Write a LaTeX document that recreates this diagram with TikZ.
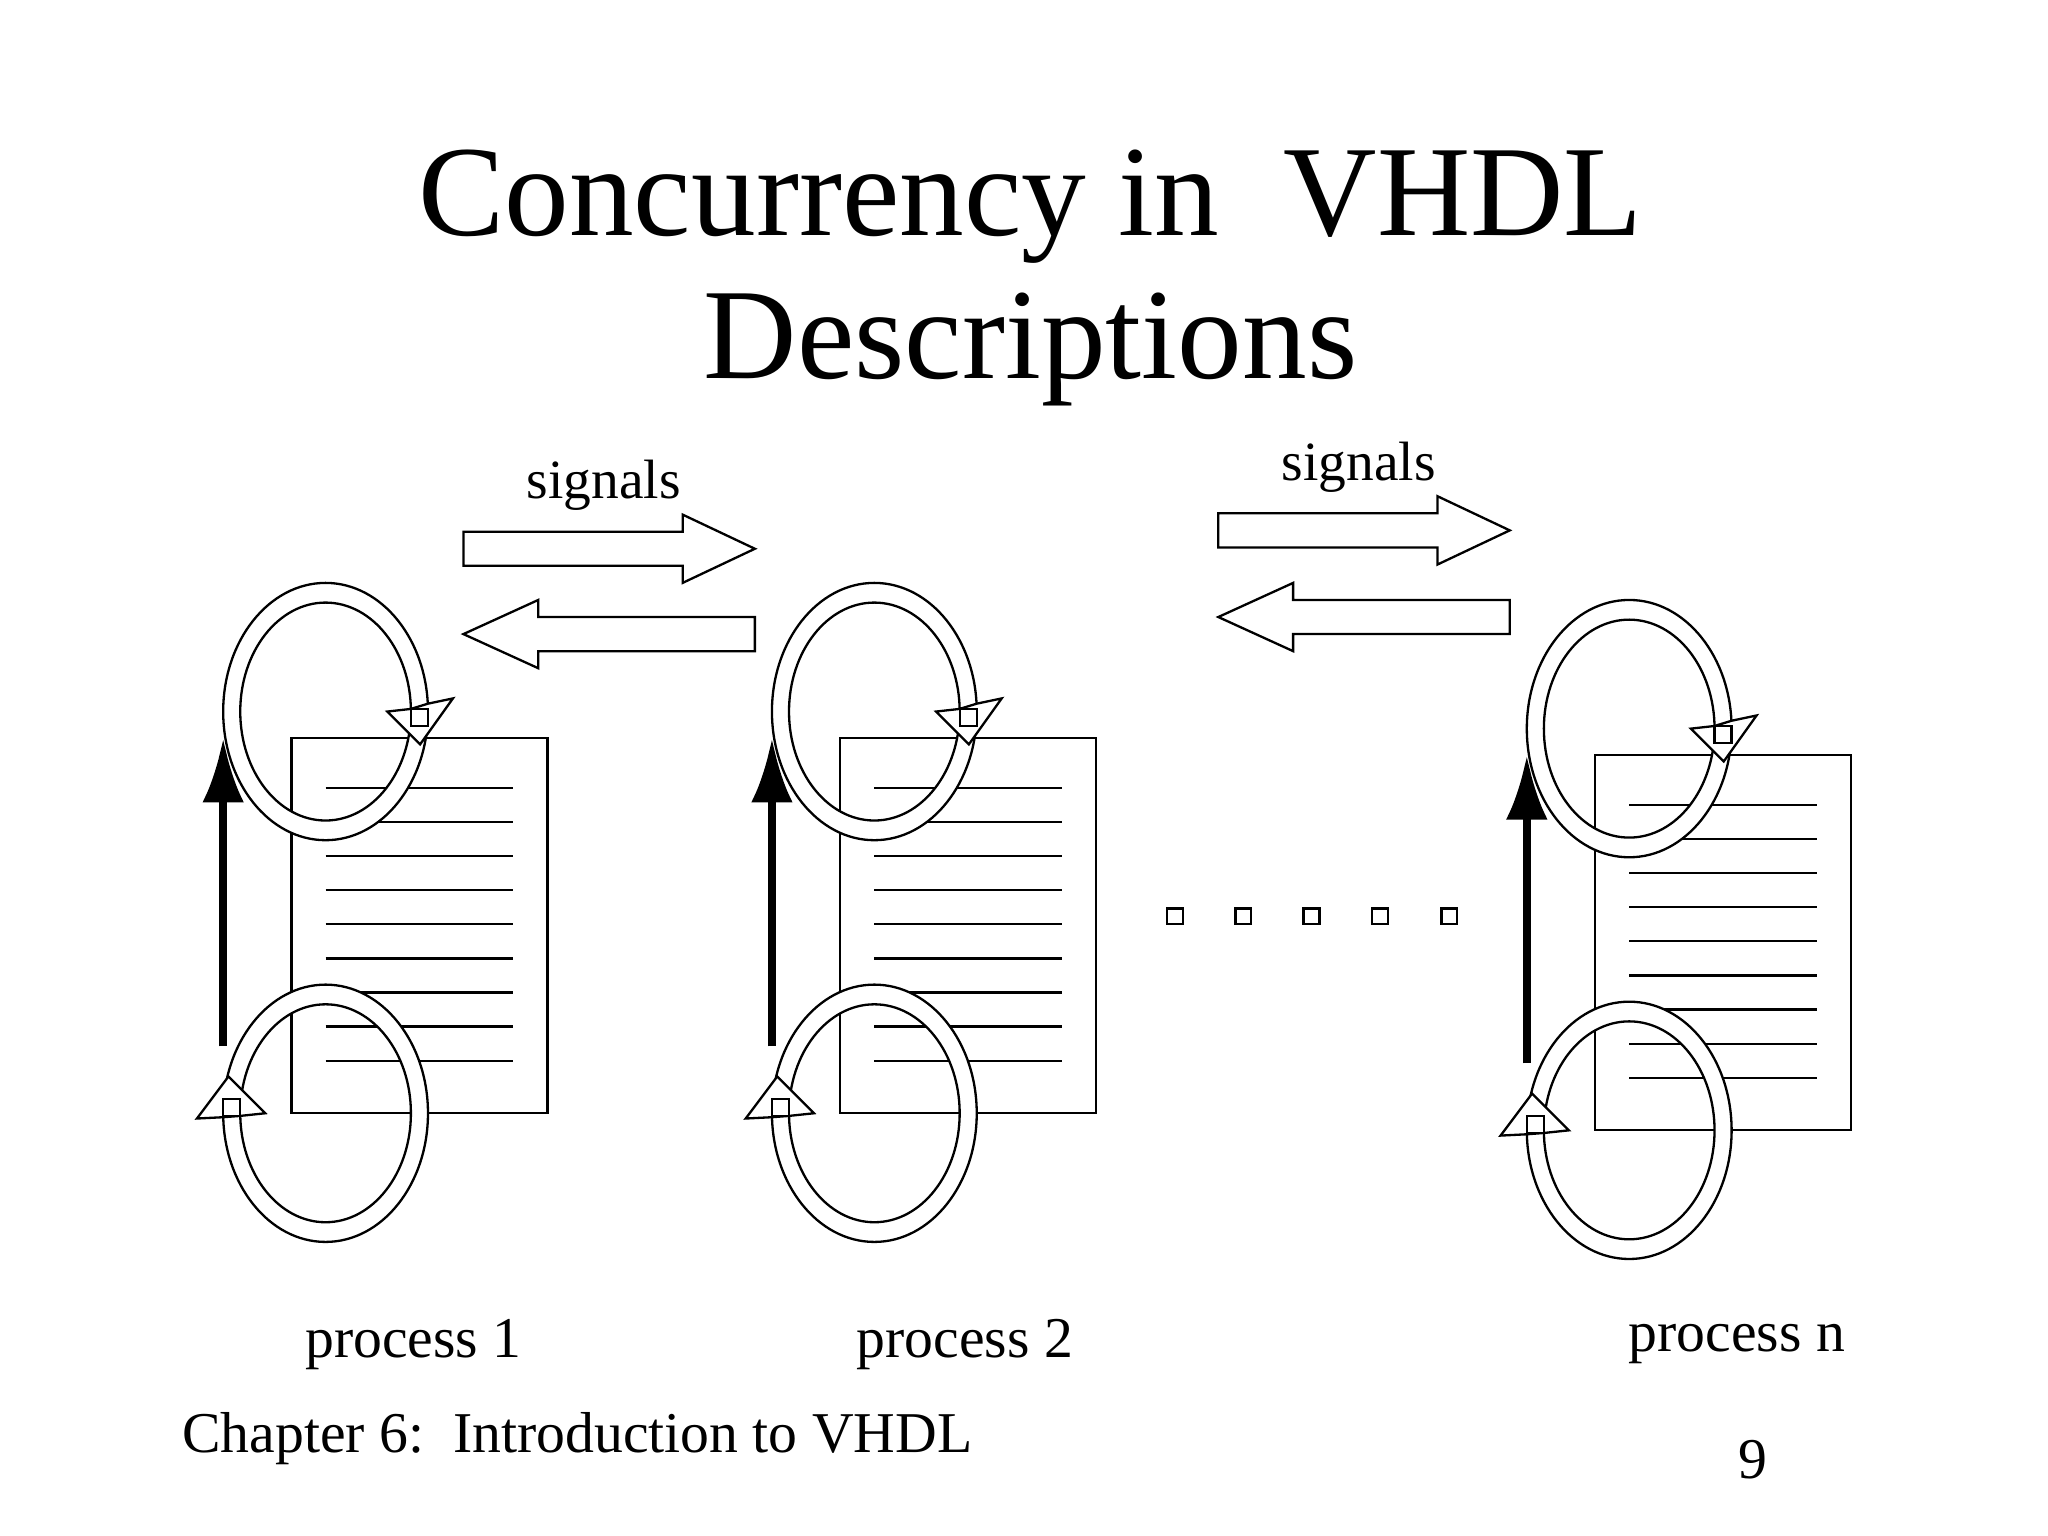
\documentclass[tikz,border=0pt]{standalone}
\usepackage{fontspec}
\usetikzlibrary{arrows.meta}
\setmainfont{Liberation Serif}
\begin{document}
\begin{tikzpicture}[x=0.01cm,y=-0.01cm,line width=0.5pt,
  lbl/.style={inner sep=0,font=\fontsize{12.5pt}{14pt}\selectfont},
  sig/.style={inner sep=0,font=\fontsize{12pt}{14pt}\selectfont}]
\fill[white] (0,0) rectangle (1560,1170);
\useasboundingbox (0,0) rectangle (1560,1170);
\node[inner sep=0,align=center,font=\fontsize{28pt}{31pt}\selectfont] (title) at (785,212) {Concurrency in\ \ VHDL\\Descriptions};
\newcommand\myring[3]{% cx cy dir(1 top, -1 bottom)
  \fill[white,even odd rule] (#1,#2) ellipse [x radius=78,y radius=98] (#1,#2) ellipse [x radius=65,y radius=83];
  \draw (#1,#2) ellipse [x radius=78,y radius=98];
  \draw (#1,#2) ellipse [x radius=65,y radius=83];}
\newcommand\proc[2]{%
\begin{scope}[shift={(#1,#2)}]
  \draw (222,562) rectangle (417,848);
  \foreach \yy in {600,626,...,808} \draw (248,\yy) -- (391,\yy);
  \myring{248}{542}{1}
  \myring{248}{848}{1}
  % top arrowhead (pointing down on right side)
  \filldraw[fill=white] (313,540) -- (295,542) -- (320,567) -- (345,532) -- (326,536) -- cycle;
  \filldraw[fill=white] (313,540) rectangle (326,553);
  % bottom arrowhead (pointing up on left side)
  \filldraw[fill=white] (183,850) -- (202,848) -- (174,820) -- (150,852) -- (170,851) -- cycle;
  \filldraw[fill=white] (170,837) rectangle (183,850);
  \draw[line width=1.8pt,-{Latex[length=14pt,width=9pt]}] (170,797) -- (170,562);
\end{scope}}
\proc{0}{0}
\proc{418}{0}
\proc{993}{13}
\newcommand\rarrow[3]{\draw (#1,#3-13) -- (#1+167,#3-13) -- (#1+167,#3-26) -- (#1+222,#3) -- (#1+167,#3+26) -- (#1+167,#3+13) -- (#1,#3+13) -- cycle;}
\newcommand\larrow[3]{\draw (#1+222,#3-13) -- (#1+57,#3-13) -- (#1+57,#3-26) -- (#1,#3) -- (#1+57,#3+26) -- (#1+57,#3+13) -- (#1+222,#3+13) -- cycle;}
\rarrow{353}{}{418}
\larrow{353}{}{483}
\rarrow{928}{}{404}
\larrow{928}{}{470}
\node[sig] (s1) at (460,370) {signals};
\node[sig] (s2) at (1035,356) {signals};
\foreach \xx in {895,947,999,1051,1104} \draw (\xx-6,692) rectangle (\xx+6,704);
\node[lbl] (p1) at (315,1024) {process 1};
\node[lbl] (p2) at (735,1024) {process 2};
\node[lbl] (pn) at (1323,1024) {process n};
\node[lbl,anchor=west] (ch) at (138,1096) {Chapter 6:\ \ Introduction to VHDL};
\node[lbl] (pg) at (1335,1112) {9};
\end{tikzpicture}
\end{document}
